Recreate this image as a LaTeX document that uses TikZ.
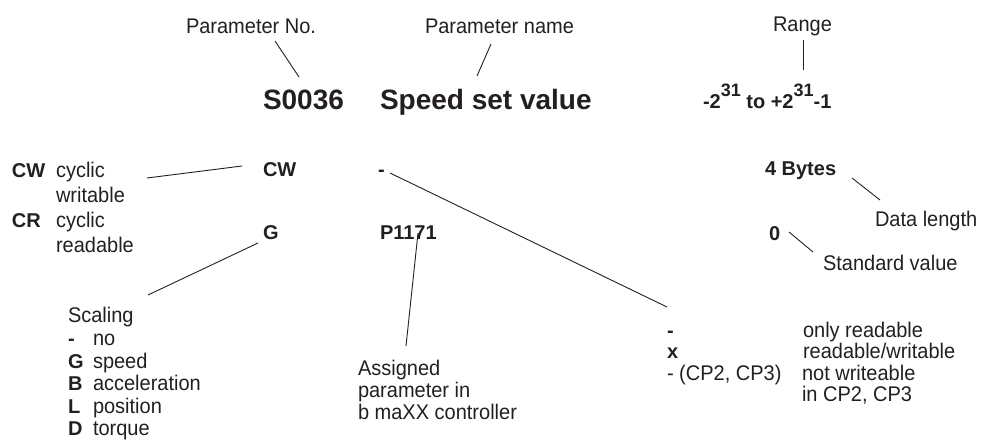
\documentclass[tikz,border=0pt]{standalone}
\usepackage{fontspec}
\setmainfont{Liberation Sans}
\definecolor{ink}{HTML}{231F20}
\newcommand\myexp[1]{\raisebox{12pt}{\fontsize{18}{18}\selectfont #1}}
\newcommand\vs[1]{\scalebox{1}[1.06]{#1}}
\begin{document}
\begin{tikzpicture}[x=1pt,y=-1pt,
  every node/.style={inner sep=0pt, outer sep=0pt, anchor=base west, text=ink},
  lbl/.style={font=\fontsize{20}{24}\selectfont},
  bld/.style={font=\bfseries\fontsize{20}{24}\selectfont},
  big/.style={font=\bfseries\fontsize{28}{32}\selectfont},
  conn/.style={draw=ink, line width=0.9pt}]
\useasboundingbox (0,0) rectangle (981,439);

% top labels
\node[lbl] (pno) at (186,33) {\vs{Parameter No.}};
\node[lbl] (pname) at (425,33) {\vs{Parameter name}};
\node[lbl] (range) at (773,31) {\vs{Range}};

% main row
\node[big] (num) at (263,109) {S0036};
\node[big] (name) at (380,109) {Speed set value};
\node[bld] (rng) at (703,108) {-2\myexp{31} to +2\myexp{31}-1};

% CW / CR legend
\node[bld] (cwl) at (12,177) {CW};
\node[lbl] (cwt) at (56,177) {\vs{cyclic}};
\node[lbl] (cwt2) at (56,202) {\vs{writable}};
\node[bld] (crl) at (12,227) {CR};
\node[lbl] (crt) at (56,227) {\vs{cyclic}};
\node[lbl] (crt2) at (56,252) {\vs{readable}};

% second row
\node[bld] (cw) at (263,176) {CW};
\node[bld] (acc) at (378,176) {-};
\node[bld] (dlen) at (765,175) {4 Bytes};
\node[lbl] (dlt) at (875,226) {\vs{Data length}};

% third row
\node[bld] (g) at (263,239) {G};
\node[bld] (p) at (380,239) {P1171};
\node[bld] (std) at (769,240) {0};
\node[lbl] (stdt) at (823,270) {\vs{Standard value}};

% scaling list
\node[lbl] (scal) at (68,322) {\vs{Scaling}};
\node[bld] (s1) at (68,345) {-};
\node[lbl] (s1t) at (93,345) {\vs{no}};
\node[bld] (s2) at (68,368) {G};
\node[lbl] (s2t) at (93,368) {\vs{speed}};
\node[bld] (s3) at (68,390) {B};
\node[lbl] (s3t) at (93,390) {\vs{acceleration}};
\node[bld] (s4) at (68,413) {L};
\node[lbl] (s4t) at (93,413) {\vs{position}};
\node[bld] (s5) at (68,435) {D};
\node[lbl] (s5t) at (93,435) {\vs{torque}};

% assigned parameter
\node[lbl] (as1) at (358,375) {\vs{Assigned}};
\node[lbl] (as2) at (358,397) {\vs{parameter in}};
\node[lbl] (as3) at (358,419) {\vs{b maXX controller}};

% access legend
\node[bld] (a1) at (667,337) {-};
\node[lbl] (a1t) at (803,337) {\vs{only readable}};
\node[bld] (a2) at (667,358) {x};
\node[lbl] (a2t) at (803,358) {\vs{readable/writable}};
\node[lbl] (a3) at (667,380) {\vs{- (CP2, CP3)}};
\node[lbl] (a3t) at (802,380) {\vs{not writeable}};
\node[lbl] (a3t2) at (802,401) {\vs{in CP2, CP3}};

% connector end points
\coordinate (pno-e) at (275,41);
\coordinate (num-e) at (299,77);
\coordinate (pname-e) at (491,44);
\coordinate (name-e) at (477,76);
\coordinate (range-e) at (803,40);
\coordinate (rng-e) at (803,70);
\coordinate (cwt-e) at (147,178);
\coordinate (cw-e) at (242,166);
\coordinate (acc-e) at (390,173);
\coordinate (a1-e) at (667,307);
\coordinate (dlen-e) at (852,178);
\coordinate (dlt-e) at (880,200);
\coordinate (g-e) at (258,243);
\coordinate (scal-e) at (148,295);
\coordinate (p-e) at (418,233);
\coordinate (as1-e) at (406,346);
\coordinate (std-e) at (789,232);
\coordinate (stdt-e) at (813,252);

\draw[conn] (pno-e) -- (num-e);
\draw[conn] (pname-e) -- (name-e);
\draw[conn] (range-e) -- (rng-e);
\draw[conn] (cwt-e) -- (cw-e);
\draw[conn] (acc-e) -- (a1-e);
\draw[conn] (dlen-e) -- (dlt-e);
\draw[conn] (g-e) -- (scal-e);
\draw[conn] (p-e) -- (as1-e);
\draw[conn] (std-e) -- (stdt-e);
\end{tikzpicture}
\end{document}
